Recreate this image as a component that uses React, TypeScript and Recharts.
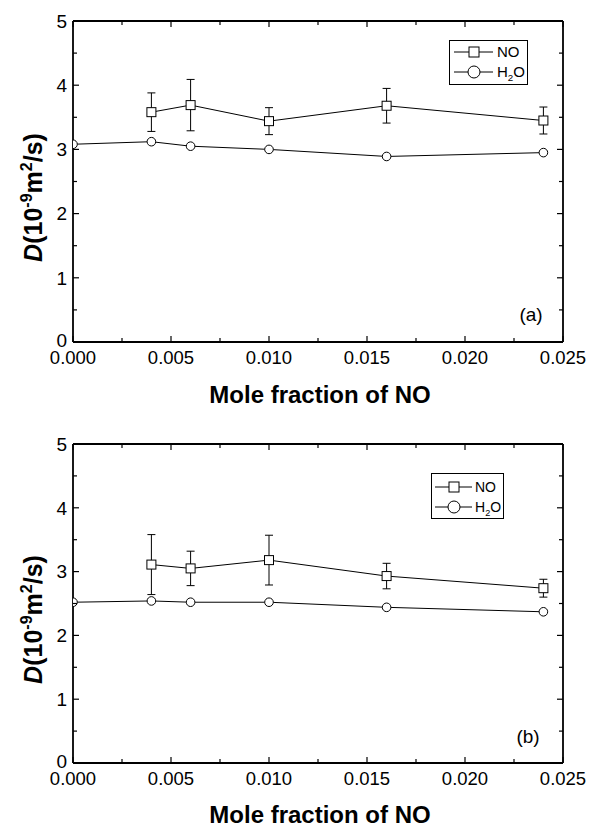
import React from 'react';
import { LineChart, Line, XAxis, YAxis, ErrorBar, Legend, Label } from 'recharts';

const FONT = '"Liberation Sans", Arial, Helvetica, sans-serif';

// ---------------- data ----------------
const xTickValues = [0, 0.0025, 0.005, 0.0075, 0.01, 0.0125, 0.015, 0.0175, 0.02, 0.0225, 0.025];
const xTickLabels = ['0.000', '', '0.005', '', '0.010', '', '0.015', '', '0.020', '', '0.025'];
const yTickValues = [0, 0.5, 1, 1.5, 2, 2.5, 3, 3.5, 4, 4.5, 5];
const yTickLabels = ['0', '', '1', '', '2', '', '3', '', '4', '', '5'];
const seriesNames = ['NO', 'H2O'];
const panelTags = ['(a)', '(b)'];
const xTitle = 'Mole fraction of NO';

const noFractions = [0.004, 0.006, 0.01, 0.016, 0.024];
const h2oFractions = [0, 0.004, 0.006, 0.01, 0.016, 0.024];

const noDiffA = [3.58, 3.69, 3.44, 3.68, 3.45];
const noErrA = [0.3, 0.4, 0.21, 0.27, 0.21];
const h2oDiffA = [3.08, 3.12, 3.05, 3.0, 2.89, 2.95];

const noDiffB = [3.11, 3.05, 3.18, 2.93, 2.74];
const noErrB = [0.47, 0.27, 0.39, 0.2, 0.14];
const h2oDiffB = [2.52, 2.54, 2.52, 2.52, 2.44, 2.37];

// ---------------- helpers ----------------
const LEFT_MARGIN = 6;
const BOTTOM_MARGIN = 9;
const MAJOR = 6;
const MINOR = 4;

const BottomTick = (p: any) => {
  const major = p.index % 2 === 0;
  const ay = p.y - BOTTOM_MARGIN;
  return (
    <g>
      <line x1={p.x} x2={p.x} y1={ay} y2={ay - (major ? MAJOR : MINOR)} stroke="#000" strokeWidth={1.2} />
      {major && (
        <text x={p.x} y={p.y} dy="0.71em" textAnchor="middle" fontSize={18.5} fontFamily={FONT} fill="#000">
          {xTickLabels[p.index]}
        </text>
      )}
    </g>
  );
};

const TopTick = (p: any) => {
  const major = p.index % 2 === 0;
  return <line x1={p.x} x2={p.x} y1={p.y} y2={p.y + (major ? MAJOR : MINOR)} stroke="#000" strokeWidth={1.2} />;
};

const LeftTick = (p: any) => {
  const major = p.index % 2 === 0;
  const ax = p.x + LEFT_MARGIN;
  return (
    <g>
      <line x1={ax} x2={ax + (major ? MAJOR : MINOR)} y1={p.y} y2={p.y} stroke="#000" strokeWidth={1.2} />
      {major && (
        <text x={p.x} y={p.y} dy={p.index === 0 ? '0.28em' : '0.36em'} textAnchor="end" fontSize={19} fontFamily={FONT} fill="#000">
          {yTickLabels[p.index]}
        </text>
      )}
    </g>
  );
};

const RightTick = (p: any) => {
  const major = p.index % 2 === 0;
  return <line x1={p.x} x2={p.x - (major ? MAJOR : MINOR)} y1={p.y} y2={p.y} stroke="#000" strokeWidth={1.2} />;
};

const squareDot = (p: any) => {
  if (p.cx == null || p.cy == null) return <g key={`sq${p.index}`} />;
  return (
    <rect key={`sq${p.index}`} x={p.cx - 4.5} y={p.cy - 4.5} width={9} height={9} fill="#fff" stroke="#000" strokeWidth={1} />
  );
};

const circleDot = (p: any) => {
  if (p.cx == null || p.cy == null) return <g key={`ci${p.index}`} />;
  return <circle key={`ci${p.index}`} cx={p.cx} cy={p.cy} r={4.3} fill="#fff" stroke="#000" strokeWidth={1} />;
};

const renderName = (name: string, fs: number) =>
  name === 'H2O' ? (
    <>
      H<tspan dy={4} fontSize={fs * 0.65}>2</tspan>
      <tspan dy={-4}>O</tspan>
    </>
  ) : (
    name
  );

type PanelCfg = {
  top: number;
  height: number;
  xAxisHeight: number;
  legend: { left: number; top: number; w: number; h: number; rows: number[]; x1: number; x2: number; mx: number; tx: number; fs: number };
  tagDx: number;
  tagDy: number;
  titleDy: number;
};

const panelCfgs: PanelCfg[] = [
  {
    top: 0,
    height: 413,
    xAxisHeight: 71,
    legend: { left: 449, top: 40, w: 79, h: 45, rows: [12, 32], x1: 5, x2: 44, mx: 25, tx: 48, fs: 15 },
    tagDx: -32,
    tagDy: -21,
    titleDy: 61,
  },
  {
    top: 423,
    height: 404,
    xAxisHeight: 64,
    legend: { left: 431, top: 50, w: 73, h: 46, rows: [14, 34], x1: 4, x2: 41, mx: 23, tx: 44, fs: 14 },
    tagDx: -35,
    tagDy: -20,
    titleDy: 60,
  },
];

const Panel = ({ cfg, no, noErr, h2o, tag }: { cfg: PanelCfg; no: number[]; noErr: number[]; h2o: number[]; tag: string }) => {
  const noData = noFractions.map((x, i) => ({ x, y: no[i], err: noErr[i] }));
  const h2oData = h2oFractions.map((x, i) => ({ x, y: h2o[i] }));
  const L = cfg.legend;

  const legendContent = () => (
    <svg width={L.w} height={L.h} style={{ display: 'block' }}>
      <rect x={0.5} y={0.5} width={L.w - 1} height={L.h - 1} fill="#fff" stroke="#000" strokeWidth={1} />
      {seriesNames.map((n, i) => {
        const cy = L.rows[i];
        return (
          <g key={n}>
            <line x1={L.x1} x2={L.x2} y1={cy} y2={cy} stroke="#000" strokeWidth={1} />
            {i === 0 ? (
              <rect x={L.mx - 5} y={cy - 5} width={10} height={10} fill="#fff" stroke="#000" strokeWidth={1} />
            ) : (
              <circle cx={L.mx} cy={cy} r={6} fill="#fff" stroke="#000" strokeWidth={1} />
            )}
            <text x={L.tx} y={cy + L.fs * 0.36} fontSize={L.fs} fontFamily={FONT} fill="#000">
              {renderName(n, L.fs)}
            </text>
          </g>
        );
      })}
    </svg>
  );

  return (
    <div style={{ position: 'absolute', left: 0, top: cfg.top }}>
      <LineChart width={591} height={cfg.height} margin={{ top: 0, right: 0, bottom: 0, left: 0 }}>
        <XAxis
          xAxisId="b"
          dataKey="x"
          type="number"
          domain={[0, 0.025]}
          allowDataOverflow
          ticks={xTickValues}
          interval={0}
          orientation="bottom"
          height={cfg.xAxisHeight}
          tickSize={0}
          tickMargin={BOTTOM_MARGIN}
          tick={BottomTick}
          axisLine={{ stroke: '#000', strokeWidth: 1.8 }}
        >
          <Label
            content={(lp: any) => {
              const vb = lp.viewBox || {};
              return (
                <text
                  x={vb.x + vb.width / 2 + 2}
                  y={vb.y + cfg.titleDy}
                  textAnchor="middle"
                  fontSize={24}
                  fontWeight="bold"
                  fontFamily={FONT}
                  fill="#000"
                >
                  {xTitle}
                </text>
              );
            }}
          />
        </XAxis>
        <XAxis
          xAxisId="t"
          dataKey="x"
          type="number"
          domain={[0, 0.025]}
          allowDataOverflow
          ticks={xTickValues}
          interval={0}
          orientation="top"
          height={21}
          tickSize={0}
          tickMargin={0}
          tick={TopTick}
          axisLine={{ stroke: '#000', strokeWidth: 1.8 }}
        />
        <YAxis
          yAxisId="l"
          type="number"
          domain={[0, 5]}
          allowDataOverflow
          ticks={yTickValues}
          interval={0}
          orientation="left"
          width={73}
          tickSize={0}
          tickMargin={LEFT_MARGIN}
          tick={LeftTick}
          axisLine={{ stroke: '#000', strokeWidth: 1.8 }}
        >
          <Label
            content={(lp: any) => {
              const vb = lp.viewBox || {};
              const cx = vb.x + 42;
              const cy = vb.y + vb.height / 2 + 16;
              return (
                <text
                  x={cx}
                  y={cy}
                  transform={`rotate(-90 ${cx} ${cy})`}
                  textAnchor="middle"
                  fontSize={25}
                  fontWeight="bold"
                  fontFamily={FONT}
                  fill="#000"
                >
                  <tspan fontStyle="italic">D</tspan>
                  <tspan>(10</tspan>
                  <tspan dy={-10} fontSize={16}>-9</tspan>
                  <tspan dy={10}>m</tspan>
                  <tspan dy={-10} fontSize={16}>2</tspan>
                  <tspan dy={10}>/s)</tspan>
                </text>
              );
            }}
          />
        </YAxis>
        <YAxis
          yAxisId="r"
          type="number"
          domain={[0, 5]}
          allowDataOverflow
          ticks={yTickValues}
          interval={0}
          orientation="right"
          width={28}
          tickSize={0}
          tickMargin={0}
          tick={RightTick}
          axisLine={{ stroke: '#000', strokeWidth: 1.8 }}
        >
          <Label
            content={(lp: any) => {
              const vb = lp.viewBox || {};
              return (
                <text
                  x={vb.x + cfg.tagDx}
                  y={vb.y + vb.height + cfg.tagDy}
                  textAnchor="middle"
                  fontSize={19}
                  fontFamily={FONT}
                  fill="#000"
                >
                  {tag}
                </text>
              );
            }}
          />
        </YAxis>
        <Legend
          layout="vertical"
          align="center"
          verticalAlign="middle"
          content={legendContent}
          wrapperStyle={{ position: 'absolute', left: L.left, top: L.top, width: L.w, height: L.h }}
        />
        <Line
          name={seriesNames[0]}
          data={noData}
          dataKey="y"
          xAxisId="b"
          yAxisId="l"
          stroke="#000"
          strokeWidth={1}
          dot={squareDot}
          activeDot={false}
          isAnimationActive={false}
        >
          <ErrorBar dataKey="err" direction="y" width={4} stroke="#000" strokeWidth={1} isAnimationActive={false} />
        </Line>
        <Line
          name={seriesNames[1]}
          data={h2oData}
          dataKey="y"
          xAxisId="b"
          yAxisId="l"
          stroke="#000"
          strokeWidth={1}
          dot={circleDot}
          activeDot={false}
          isAnimationActive={false}
        />
      </LineChart>
    </div>
  );
};

export default function App() {
  return (
    <div style={{ position: 'absolute', left: 0, top: 0, width: 591, height: 827, background: '#fff' }}>
      <Panel cfg={panelCfgs[0]} no={noDiffA} noErr={noErrA} h2o={h2oDiffA} tag={panelTags[0]} />
      <Panel cfg={panelCfgs[1]} no={noDiffB} noErr={noErrB} h2o={h2oDiffB} tag={panelTags[1]} />
    </div>
  );
}
